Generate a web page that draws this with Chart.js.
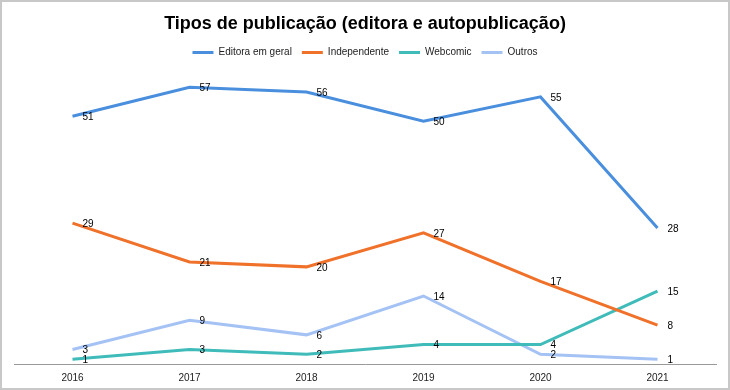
<!DOCTYPE html>
<html>
<head>
<meta charset="utf-8">
<script src="https://cdn.jsdelivr.net/npm/chart.js@4"></script>
<style>
  html, body { margin: 0; padding: 0; background: #fff; }
  #wrap { width: 730px; height: 390px; box-sizing: border-box; border: 2px solid #c8c8c8; }
</style>
</head>
<body>
<div id="wrap"><canvas id="chart" width="726" height="386"></canvas></div>
<script>
const years = ['2016', '2017', '2018', '2019', '2020', '2021'];
const editora = [51, 57, 56, 50, 55, 28];
const independente = [29, 21, 20, 27, 17, 8];
const webcomic = [1, 3, 2, 4, 4, 15];
const outros = [3, 9, 6, 14, 2, 1];

const FONT = 'Arial, "Liberation Sans", sans-serif';

// rótulos de valor ao lado de cada ponto
const valueLabels = {
    id: 'valueLabels',
    afterDatasetsDraw(chart) {
        const ctx = chart.ctx;
        ctx.save();
        ctx.font = '10px ' + FONT;
        ctx.fillStyle = '#000';
        ctx.textAlign = 'left';
        ctx.textBaseline = 'middle';
        chart.data.datasets.forEach((ds, i) => {
            chart.getDatasetMeta(i).data.forEach((pt, j) => {
                ctx.fillText(ds.data[j], pt.x + 10, pt.y + 1);
            });
        });
        ctx.restore();
    }
};

// espaço extra abaixo da legenda
const legendGap = {
    id: 'legendGap',
    beforeInit(chart) {
        const fit = chart.legend.fit;
        chart.legend.fit = function () {
            fit.call(this);
            this.height += 5;
        };
    }
};

function serie(label, data, color) {
    return {
        label, data,
        borderColor: color,
        backgroundColor: color,
        borderWidth: 3,
        pointRadius: 0,
        tension: 0,
        fill: false
    };
}

new Chart(document.getElementById('chart'), {
    type: 'line',
    data: {
        labels: years,
        datasets: [
            serie('Editora em geral', editora, '#4a8fde'),
            serie('Independente', independente, '#f0712a'),
            serie('Webcomic', webcomic, '#3fbcba'),
            serie('Outros', outros, '#a4c2f4')
        ]
    },
    options: {
        responsive: false,
        animation: false,
        layout: { padding: { left: 12, right: 12, top: 4, bottom: 0 } },
        plugins: {
            title: {
                display: true,
                text: 'Tipos de publicação (editora e autopublicação)',
                color: '#000',
                font: { family: FONT, size: 18, weight: 'bold' },
                padding: { top: 7, bottom: 3 }
            },
            legend: {
                position: 'top',
                labels: {
                    boxWidth: 21,
                    boxHeight: 3,
                    padding: 10,
                    color: '#222',
                    font: { family: FONT, size: 10 },
                    generateLabels(chart) {
                        return Chart.defaults.plugins.legend.labels.generateLabels(chart)
                            .map(l => ({ ...l, lineWidth: 0 }));
                    }
                }
            },
            tooltip: { enabled: false }
        },
        scales: {
            x: {
                offset: true,
                grid: { display: false, drawTicks: false },
                border: { display: true, color: '#999', width: 1 },
                ticks: { color: '#222', font: { family: FONT, size: 10 }, padding: 8, maxRotation: 0 },
                afterFit(scale) { scale.height = 24; }
            },
            y: {
                display: false,
                min: 0,
                max: 60
            }
        }
    },
    plugins: [valueLabels, legendGap]
});
</script>
</body>
</html>
